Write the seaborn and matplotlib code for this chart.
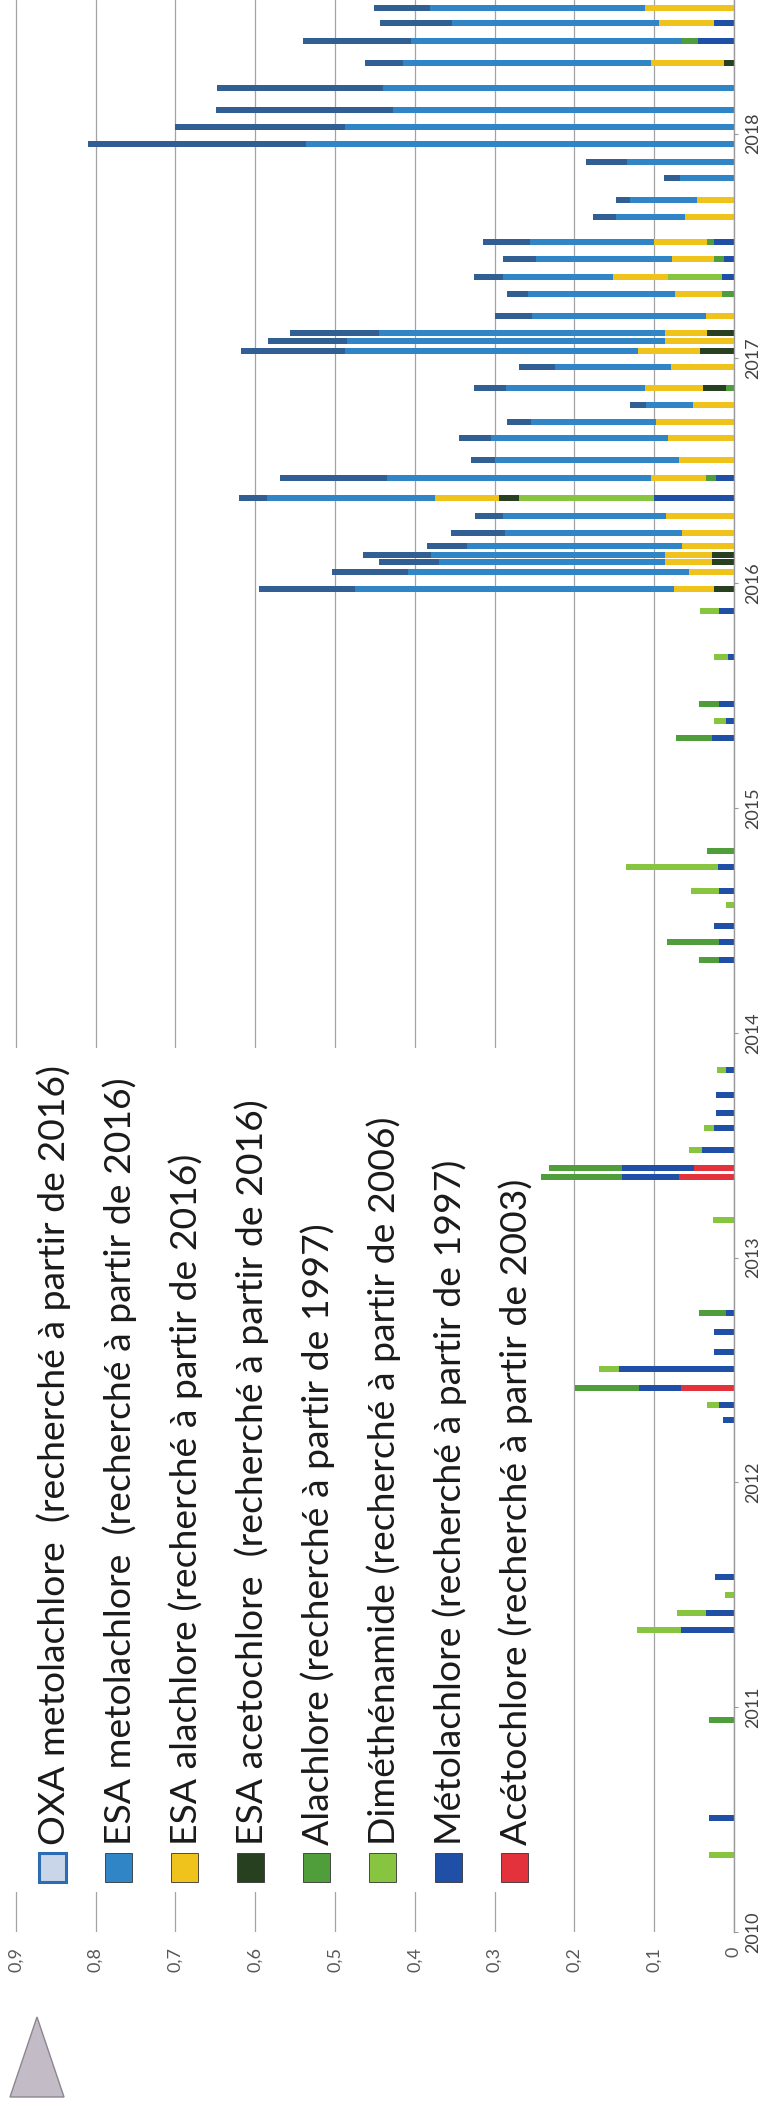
import numpy as np
import matplotlib
matplotlib.use("Agg")
import matplotlib.pyplot as plt
import seaborn as sns
from matplotlib.patches import Rectangle, Polygon

# ---------------- data ----------------
# sampling dates as decimal years
sample_dates = [
    2010.343, 2010.507, 2010.943, 2011.343, 2011.419, 2011.499, 2011.579,
    2012.278, 2012.344, 2012.420, 2012.504, 2012.580, 2012.669, 2012.754,
    2013.167, 2013.359, 2013.399, 2013.479, 2013.577, 2013.643, 2013.723, 2013.835,
    2014.324, 2014.404, 2014.475, 2014.569, 2014.631, 2014.738, 2014.809,
    2015.311, 2015.387, 2015.463, 2015.672, 2015.876,
    2015.974, 2016.050, 2016.094, 2016.125, 2016.165, 2016.223, 2016.299, 2016.379,
    2016.468, 2016.548, 2016.646, 2016.717, 2016.793, 2016.868, 2016.962,
    2017.033, 2017.077, 2017.113, 2017.189, 2017.286, 2017.362, 2017.442, 2017.518,
    2017.629, 2017.705, 2017.802, 2017.874, 2017.954,
    2018.029, 2018.105, 2018.203, 2018.314, 2018.412, 2018.492, 2018.559,
]

oxa_metolachlore = [
    0, 0, 0, 0, 0, 0, 0,
    0, 0, 0, 0, 0, 0, 0,
    0, 0, 0, 0, 0, 0, 0, 0,
    0, 0, 0, 0, 0, 0, 0,
    0, 0, 0, 0, 0,
    0.120, 0.095, 0.075, 0.085, 0.050, 0.068, 0.036, 0.035,
    0.135, 0.030, 0.040, 0.030, 0.020, 0.040, 0.045,
    0.130, 0.099, 0.112, 0.046, 0.026, 0.036, 0.042, 0.058,
    0.029, 0.018, 0.020, 0.052, 0.274,
    0.214, 0.222, 0.208, 0.048, 0.135, 0.089, 0.070,
]
esa_metolachlore = [
    0, 0, 0, 0, 0, 0, 0,
    0, 0, 0, 0, 0, 0, 0,
    0, 0, 0, 0, 0, 0, 0, 0,
    0, 0, 0, 0, 0, 0, 0,
    0, 0, 0, 0, 0,
    0.400, 0.353, 0.284, 0.294, 0.270, 0.222, 0.204, 0.210,
    0.330, 0.230, 0.221, 0.157, 0.058, 0.174, 0.145,
    0.368, 0.398, 0.358, 0.218, 0.184, 0.138, 0.170, 0.156,
    0.087, 0.084, 0.068, 0.134, 0.536,
    0.487, 0.427, 0.440, 0.311, 0.340, 0.260, 0.270,
]
esa_alachlore = [
    0, 0, 0, 0, 0, 0, 0,
    0, 0, 0, 0, 0, 0, 0,
    0, 0, 0, 0, 0, 0, 0, 0,
    0, 0, 0, 0, 0, 0, 0,
    0, 0, 0, 0, 0,
    0.050, 0.056, 0.059, 0.059, 0.065, 0.065, 0.085, 0.080,
    0.069, 0.069, 0.083, 0.098, 0.052, 0.073, 0.079,
    0.078, 0.087, 0.053, 0.035, 0.059, 0.069, 0.053, 0.066,
    0.061, 0.046, 0, 0, 0,
    0, 0, 0, 0.092, 0, 0.069, 0.111,
]
esa_acetochlore = [
    0, 0, 0, 0, 0, 0, 0,
    0, 0, 0, 0, 0, 0, 0,
    0, 0, 0, 0, 0, 0, 0, 0,
    0, 0, 0, 0, 0, 0, 0,
    0, 0, 0, 0, 0,
    0.025, 0, 0.027, 0.027, 0, 0, 0, 0.026,
    0, 0, 0, 0, 0, 0.029, 0,
    0.042, 0, 0.034, 0, 0, 0, 0, 0,
    0, 0, 0, 0, 0,
    0, 0, 0, 0.012, 0, 0, 0,
]
alachlore = [
    0, 0, 0.031, 0, 0, 0, 0,
    0, 0, 0.080, 0, 0, 0, 0.034,
    0, 0.102, 0.092, 0, 0, 0, 0, 0,
    0.025, 0.065, 0, 0, 0, 0, 0.034,
    0.046, 0, 0.025, 0, 0,
    0, 0, 0, 0, 0, 0, 0, 0,
    0.0125, 0, 0, 0, 0, 0.010, 0,
    0, 0, 0, 0, 0.015, 0, 0.013, 0.009,
    0, 0, 0, 0, 0,
    0, 0, 0, 0, 0.020, 0, 0,
]
dimethenamide = [
    0.031, 0, 0, 0.054, 0.037, 0.011, 0,
    0, 0.015, 0, 0.025, 0, 0, 0,
    0.026, 0, 0, 0.017, 0.013, 0, 0, 0.011,
    0, 0, 0, 0.010, 0.035, 0.115, 0,
    0, 0.015, 0, 0.017, 0.023,
    0, 0, 0, 0, 0, 0, 0, 0.169,
    0, 0, 0, 0, 0, 0, 0,
    0, 0, 0, 0, 0, 0.068, 0, 0,
    0, 0, 0, 0, 0,
    0, 0, 0, 0, 0, 0, 0,
]
metolachlore = [
    0, 0.031, 0, 0.067, 0.035, 0, 0.024,
    0.014, 0.019, 0.052, 0.144, 0.025, 0.025, 0.010,
    0, 0.071, 0.090, 0.040, 0.025, 0.022, 0.022, 0.010,
    0.019, 0.019, 0.025, 0, 0.019, 0.020, 0,
    0.027, 0.010, 0.019, 0.008, 0.019,
    0, 0, 0, 0, 0, 0, 0, 0.100,
    0.023, 0, 0, 0, 0, 0, 0,
    0, 0, 0, 0, 0, 0.015, 0.012, 0.025,
    0, 0, 0, 0, 0,
    0, 0, 0, 0, 0.045, 0.025, 0,
]
acetochlore = [
    0, 0, 0, 0, 0, 0, 0,
    0, 0, 0.067, 0, 0, 0, 0,
    0, 0.069, 0.050, 0, 0, 0, 0, 0,
    0, 0, 0, 0, 0, 0, 0,
    0, 0, 0, 0, 0,
    0, 0, 0, 0, 0, 0, 0, 0,
    0, 0, 0, 0, 0, 0, 0,
    0, 0, 0, 0, 0, 0, 0, 0,
    0, 0, 0, 0, 0,
    0, 0, 0, 0, 0, 0, 0,
]

series_labels = [
    "OXA metolachlore  (recherché à partir de 2016)",
    "ESA metolachlore  (recherché à partir de 2016)",
    "ESA alachlore (recherché à partir de 2016)",
    "ESA acetochlore  (recherché à partir de 2016)",
    "Alachlore (recherché à partir de 1997)",
    "Diméthénamide (recherché à partir de 2006)",
    "Métolachlore (recherché à partir de 1997)",
    "Acétochlore (recherché à partir de 2003)",
]
series_colors = ["#315f93", "#2f85c6", "#f0c21c", "#27401f",
                 "#4f9d3b", "#87c43f", "#1f4fa6", "#e3323b"]
year_ticks = [2010, 2011, 2012, 2013, 2014, 2015, 2016, 2017, 2018]
value_ticks = [0.0, 0.1, 0.2, 0.3, 0.4, 0.5, 0.6, 0.7, 0.8, 0.9]
value_tick_labels = ["0", "0,1", "0,2", "0,3", "0,4", "0,5", "0,6", "0,7", "0,8", "0,9"]

# ---------------- layout helpers (pixels of the 769x2111 page) ----------------
W, H = 769, 2111


def fx(x):
    return x / W


def fy(y):
    return 1 - y / H


sns.set_theme(style="white")
plt.rcParams["font.family"] = ["Lato", "DejaVu Sans"]

fig = plt.figure(figsize=(W / 100, H / 100), dpi=100)
fig.patch.set_facecolor("white")

x_zero_px, px_per_unit, xmax = 734.0, 798.0, 0.91
left_px = x_zero_px - xmax * px_per_unit
axis_bottom_px = 1932.0
px_per_year = 224.8
ax = fig.add_axes([fx(left_px), 1 - axis_bottom_px / H,
                   (x_zero_px - left_px) / W, axis_bottom_px / H])
ax.set_facecolor("white")

# ---------------- stacked horizontal bars (rotated chart) ----------------
series = [oxa_metolachlore, esa_metolachlore, esa_alachlore, esa_acetochlore,
          alachlore, dimethenamide, metolachlore, acetochlore]
stack = np.array(series[::-1], dtype=float)       # base (Acétochlore) first
stack_colors = series_colors[::-1]
cum = np.cumsum(stack, axis=0)
dates = np.array(sample_dates)
min_gap = np.min(np.diff(np.unique(dates)))
bar_thickness = 0.024  # in years
for k in range(len(stack) - 1, -1, -1):
    sns.barplot(x=cum[k], y=dates, orient="h", native_scale=True,
                color=stack_colors[k], saturation=1,
                width=bar_thickness / min_gap, errorbar=None,
                linewidth=0, ax=ax)

ax.set_xlim(xmax, 0)
ax.set_ylim(2010, 2010 + axis_bottom_px / px_per_year)
ax.set_xlabel("")
ax.set_ylabel("")

ax.set_xticks(value_ticks)
ax.set_xticklabels(value_tick_labels, rotation=90, fontsize=13, color="#595959")
ax.tick_params(axis="x", length=0, pad=10.8)
ax.grid(axis="x", color="#a3a3a3", lw=0.9)
ax.grid(axis="y", visible=False)
ax.set_axisbelow(True)

ax.yaxis.tick_right()
ax.set_yticks(year_ticks)
ax.set_yticklabels([str(y) for y in year_ticks], fontsize=13, color="#404040")
for lab in ax.get_yticklabels():
    lab.set_rotation(90)
    lab.set_va("center")
    lab.set_ha("left")
ax.tick_params(axis="y", right=True, left=False, length=3, width=0.8,
               color="#999999", pad=5, direction="out")
for s in ["left", "top", "bottom"]:
    ax.spines[s].set_visible(False)
ax.spines["right"].set_color("#9a9a9a")
ax.spines["right"].set_linewidth(1.0)

# ---------------- legend (rotated, drawn on the figure) ----------------
fig.add_artist(Rectangle((fx(0), fy(1892)), 535 / W, (1892 - 1048) / H,
                         transform=fig.transFigure, facecolor="white",
                         edgecolor="none", zorder=2))

texts = []
for i, (lab, col) in enumerate(zip(series_labels, series_colors)):
    cx = 52.5 + 66 * i
    if i == 0:
        box = Rectangle((fx(cx - 13.5), fy(1882)), 27 / W, 29 / H,
                        transform=fig.transFigure, facecolor="#c9d5e8",
                        edgecolor="#2d6cb3", lw=2.2, zorder=4)
    else:
        box = Rectangle((fx(cx - 13.5), fy(1882)), 27 / W, 29 / H,
                        transform=fig.transFigure, facecolor=col,
                        edgecolor="#333333", lw=0.6, zorder=4)
    fig.add_artist(box)
    t = fig.text(fx(cx + 12.5), fy(1845), lab, rotation=90, rotation_mode="anchor",
                 ha="left", va="baseline", fontsize=24, color="#1a1a1a", zorder=5)
    texts.append(t)

fig.canvas.draw()
r = fig.canvas.get_renderer()
h0 = texts[0].get_window_extent(renderer=r).height
fs = 24 * 782.0 / h0
for t in texts:
    t.set_fontsize(fs)

# decorative grey triangle of the scanned page
fig.add_artist(Polygon([[fx(10), fy(2097)], [fx(64), fy(2097)], [fx(37), fy(2017)]],
                       closed=True, transform=fig.transFigure,
                       facecolor="#c3bcc6", edgecolor="#8c8592", lw=1, zorder=3))

fig.savefig("out.png", dpi=100)
